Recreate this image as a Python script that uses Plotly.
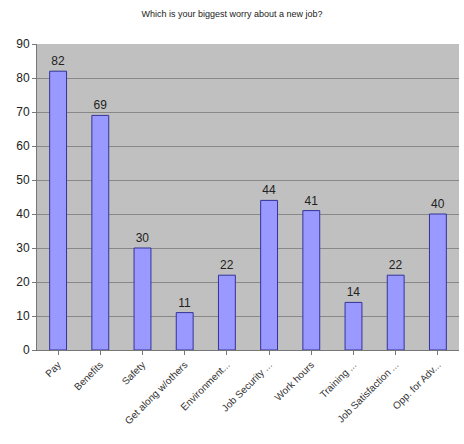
import plotly.graph_objects as go

categories = ["Pay", "Benefits", "Safety", "Get along w/others", "Environment...",
              "Job Security ...", "Work hours", "Training ...", "Job Satisfaction ...",
              "Opp. for Adv..."]
values = [82, 69, 30, 11, 22, 44, 41, 14, 22, 40]
title = "Which is your biggest worry about a new job?"

fig = go.Figure(go.Bar(
    x=categories, y=values, text=values, textposition="outside",
    textfont=dict(size=12, color="#222222", family="Liberation Sans, Arial"),
    marker=dict(color="#9999ff", line=dict(color="#333399", width=1)),
    width=0.4, cliponaxis=False,
))
fig.update_layout(
    width=464, height=444,
    margin=dict(l=37, r=5, t=44, b=94),
    paper_bgcolor="white", plot_bgcolor="#c0c0c0",
    title=dict(text=title, x=0.5, xanchor="center", y=0.975, yanchor="top",
               font=dict(size=9, color="#222222", family="Liberation Sans, Arial")),
    showlegend=False,
    font=dict(family="Liberation Sans, Arial", color="#222222"),
)
fig.update_yaxes(range=[0, 90], dtick=10, showgrid=True, gridcolor="#888888", gridwidth=1,
                 ticks="outside", ticklen=4, tickcolor="#777777",
                 showline=True, linecolor="#777777", zeroline=False,
                 tickfont=dict(size=12, color="#222222"))
fig.update_xaxes(tickangle=-45, ticks="outside", ticklen=4, tickcolor="#777777",
                 showline=True, linecolor="#777777",
                 tickfont=dict(size=10, color="#333333"))
fig.write_html("out.html")
